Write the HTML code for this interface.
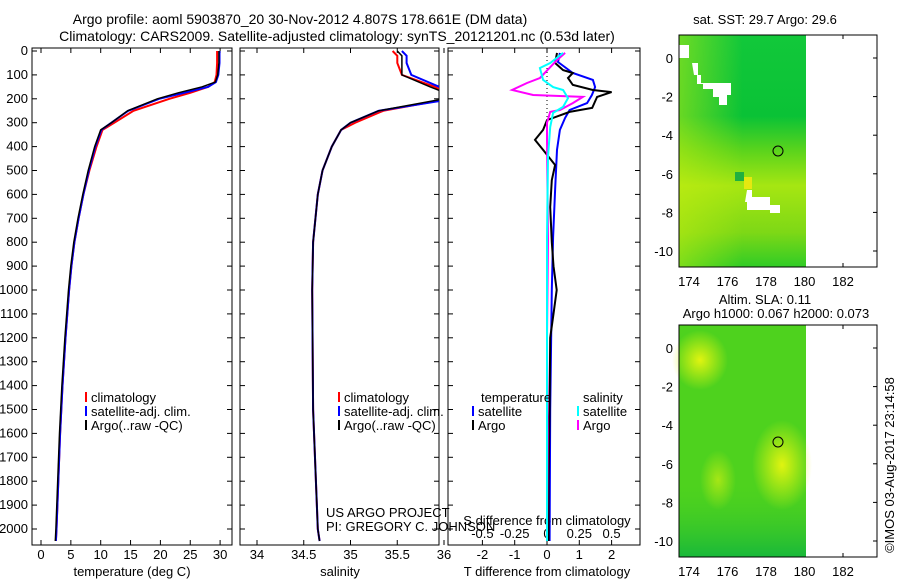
<!DOCTYPE html>
<html><head><meta charset="utf-8"><style>
body{margin:0;background:#fff;}
svg text{font-family:"Liberation Sans",sans-serif;font-size:13px;fill:#000;}
svg text.tt{font-size:14px;}
</style></head><body>
<svg id="c" width="900" height="580" xmlns="http://www.w3.org/2000/svg">
<defs>
<linearGradient id="g1" x1="0" y1="0" x2="0" y2="1">
<stop offset="0" stop-color="#12c83a"/><stop offset="0.35" stop-color="#0ac236"/><stop offset="0.5" stop-color="#5cd41c"/><stop offset="0.65" stop-color="#a6e612"/><stop offset="0.85" stop-color="#7ed816"/><stop offset="1" stop-color="#30cc26"/></linearGradient>
<linearGradient id="g1b" x1="0" y1="0" x2="1" y2="0">
<stop offset="0" stop-color="#c8ee10" stop-opacity="0.5"/><stop offset="0.5" stop-color="#c8ee10" stop-opacity="0"/></linearGradient>
<linearGradient id="g2" x1="0" y1="0" x2="0" y2="1">
<stop offset="0" stop-color="#4ed21e" stop-opacity="0"/><stop offset="1" stop-color="#18b83a"/></linearGradient>
<radialGradient id="b1" cx="0.5" cy="0.5" r="0.5"><stop offset="0" stop-color="#e0f410"/><stop offset="1" stop-color="#e0f410" stop-opacity="0"/></radialGradient>
</defs>
<text class="tt" x="300" y="24" text-anchor="middle">Argo profile: aoml 5903870_20 30-Nov-2012 4.807S 178.661E (DM data)</text>
<text class="tt" x="337" y="41" text-anchor="middle">Climatology: CARS2009. Satellite-adjusted climatology: synTS_20121201.nc (0.53d later)</text>
<g id="plots"></g>
<g>
<text x="765" y="24" text-anchor="middle">sat. SST: 29.7 Argo: 29.6</text>
<rect x="679" y="35" width="127" height="232" fill="url(#g1)"/>
<rect x="679" y="35" width="127" height="232" fill="url(#g1b)"/>
<path d="M679,45h10v13h-10z M692,63h6v12h3v8h30v12h-4v10h-8v-8h-6v-8h-10v-5h-6v-9h-3z M747,190h5v7h18v8h10v8h-10v-3h-23v-8h-2z" fill="#fff"/>
<rect x="744" y="177" width="8" height="12" fill="#e6e810"/>
<rect x="735" y="172" width="9" height="9" fill="#20b040"/>
<circle cx="778" cy="151" r="5" fill="none" stroke="#000"/>
<rect x="679" y="35" width="198" height="232" fill="none" stroke="#000"/>
</g>
<g>
<text x="765" y="304" text-anchor="middle">Altim. SLA: 0.11</text>
<text x="776" y="318" text-anchor="middle">Argo h1000: 0.067 h2000: 0.073</text>
<rect x="679" y="325" width="127" height="232" fill="#4ed21e"/>
<rect x="679" y="480" width="127" height="77" fill="url(#g2)"/>
<ellipse cx="700" cy="360" rx="28" ry="30" fill="url(#b1)"/>
<ellipse cx="782" cy="465" rx="30" ry="45" fill="url(#b1)"/>
<ellipse cx="718" cy="480" rx="18" ry="30" fill="url(#b1)" opacity="0.6"/>
<circle cx="778" cy="442" r="5" fill="none" stroke="#000"/>
<rect x="679" y="325" width="198" height="232" fill="none" stroke="#000"/>
</g>
<text transform="translate(894,465) rotate(-90)" text-anchor="middle">©IMOS 03-Aug-2017 23:14:58</text>
<text x="326" y="517">US ARGO PROJECT</text>
<text x="326" y="531">PI: GREGORY C. JOHNSON</text>
</svg>
<script>
const depthTicks=[0,100,200,300,400,500,600,700,800,900,1000,1100,1200,1300,1400,1500,1600,1700,1800,1900,2000];
const tempTicks=[0,5,10,15,20,25,30];
const salTicks=[34,34.5,35,35.5,36];
const tdTicks=[-2,-1,0,1,2];
const sdTickLabels=["-0.5","-0.25","0","0.25","0.5"];
const latTicks=[0,-2,-4,-6,-8,-10];
const lonTicks=[174,176,178,180,182];
const tDepth=[0,50,100,130,150,175,200,250,300,330,400,500,600,700,800,900,1000,1200,1400,1600,1800,2000,2050];
const tArgo=[29.8,29.8,29.6,29.2,27,23,19.5,14.5,11.8,10,9,7.9,7,6.2,5.5,5,4.6,4,3.5,3.1,2.8,2.5,2.4];
const tSat=[29.9,29.9,29.7,29.3,28,24,19.8,14.6,11.8,10.1,9.1,8,7.1,6.3,5.6,5.1,4.7,4.1,3.6,3.2,2.9,2.6,2.5];
const tClim=[29.5,29.5,29.4,29.1,28,25,21.5,15.5,12.3,10.3,9.3,8.1,7.1,6.3,5.6,5.1,4.7,4.1,3.6,3.2,2.9,2.6,2.5];
const sDepth=[0,20,50,100,150,180,200,250,300,330,400,500,600,800,1000,1500,2000,2050];
const sArgo=[35.5,35.55,35.55,35.55,35.85,36.05,36.0,35.3,35.0,34.9,34.8,34.7,34.65,34.6,34.59,34.6,34.65,34.67];
const sSat=[35.55,35.6,35.6,35.65,35.95,36.1,36.1,35.3,35.0,34.9,34.8,34.7,34.65,34.6,34.59,34.6,34.65,34.67];
const sClim=[35.45,35.5,35.5,35.55,35.9,36.05,36.05,35.35,35.05,34.9,34.8,34.7,34.65,34.6,34.59,34.6,34.65,34.67];
const dDepthA=[8,50,80,92,113,142,163,172,192,238,255,289,330,372,414,477,540,653,800,900,1000,1100,1200,1500,1800,2050];
const dTArgo=[0.31,0.25,0.5,0.8,0.65,0.8,1.42,2.0,1.55,1.4,0.7,0,-0.12,-0.37,-0.12,0.25,0.15,0.1,0.15,0.2,0.3,0.2,0.1,0.08,0.05,0.05];
const dDepthS=[8,46,92,121,151,184,218,247,280,330,414,582,778,1000,1500,2050];
const dTSat=[0.4,0.34,0.8,1.42,1.49,1.39,1.24,0.7,0.56,0.4,0.31,0.25,0.19,0.15,0.1,0.08];
const dDepthM=[8,38,113,134,163,184,192,218,247,255,301,372,791,1200,1600,2050];
const dSArgo=[0.56,0.31,-0.22,-0.62,-1.08,-0.43,1.11,0.8,0.4,0.1,0,0,0.03,0,0.02,0];
const dDepthC=[8,50,71,121,151,163,197,234,259,318,444,778,1200,1600,2050];
const dSSat=[0.5,0.1,-0.22,-0.12,0.19,0.5,0.65,0.5,0.19,0.1,0.03,0,0,0,0];

const NS="http://www.w3.org/2000/svg";
const root=document.getElementById('plots');
function el(t,a,p){const e=document.createElementNS(NS,t);for(const k in a)e.setAttribute(k,a[k]);(p||root).appendChild(e);return e;}
const Y0=51,YS=0.239;
const yD=d=>Y0+d*YS;
function panel(x0,x1,xf,ticks,labels,name){
  const g=el('g',{});
  
  
  el('rect',{x:x0,y:48,width:x1-x0,height:497,fill:'none',stroke:'#000'},g);
  depthTicks.forEach(d=>{el('line',{x1:x0,x2:x0+5,y1:yD(d),y2:yD(d),stroke:'#000'},g);el('line',{x1:x1,x2:x1-5,y1:yD(d),y2:yD(d),stroke:'#000'},g);});
  ticks.forEach((v,i)=>{const x=xf(v);el('line',{x1:x,x2:x,y1:48,y2:53,stroke:'#000'},g);el('line',{x1:x,x2:x,y1:545,y2:540,stroke:'#000'},g);
    if(labels){const t=el('text',{x:x,y:559,'text-anchor':'middle'},g);t.textContent=labels[i];}});
  return g;
}
function line(g,xs,ds,xf,col,name,w){
  const p=el('path',{d:xs.map((v,i)=>(i?'L':'M')+xf(v).toFixed(1)+','+yD(ds[i]).toFixed(1)).join(''),fill:'none',stroke:col,'stroke-width':w||2},g);
  
  
}
function legendEntry(g,x,y,col,label,name){
  const e=el('g',{},g);
  
  
  el('line',{x1:x,x2:x,y1:y-10,y2:y,stroke:col,'stroke-width':2},e);
  const t=el('text',{x:x+5,y:y},e);t.textContent=label;
}
depthTicks.forEach(d=>{const t=el('text',{x:28,y:yD(d)+4,'text-anchor':'end'});
  
  
  t.textContent=d;});
const xT=v=>41+v*5.97;
const p1=panel(32,232,xT,tempTicks,tempTicks,'temperature-panel');
{const t=el('text',{x:132,y:576,'text-anchor':'middle'},p1);t.textContent='temperature (deg C)';}
line(p1,tClim,tDepth,xT,'#f00','climatology-temp-line');
line(p1,tSat,tDepth,xT,'#00f','satellite-temp-line');
line(p1,tArgo,tDepth,xT,'#000','argo-temp-line',1.5);
legendEntry(p1,86,402,'#f00','climatology','legend-climatology');
legendEntry(p1,86,416,'#00f','satellite-adj. clim.','legend-satellite');
legendEntry(p1,86,430,'#000','Argo(..raw -QC)','legend-argo');
const xS=v=>257+(v-34)*93.5;
const p2=panel(240,439,xS,salTicks,["34","34.5","35","35.5","36"],'salinity-panel');
{const t=el('text',{x:340,y:576,'text-anchor':'middle'},p2);t.textContent='salinity';}
const cp=el('clipPath',{id:'cp2'});el('rect',{x:240,y:48,width:199,height:497},cp);
const p2c=el('g',{'clip-path':'url(#cp2)'},p2);
line(p2c,sClim,sDepth,xS,'#f00','climatology-sal-line');
line(p2c,sSat,sDepth,xS,'#00f','satellite-sal-line');
line(p2c,sArgo,sDepth,xS,'#000','argo-sal-line',1.5);
legendEntry(p2,339,402,'#f00','climatology','legend-climatology-2');
legendEntry(p2,339,416,'#00f','satellite-adj. clim.','legend-satellite-2');
legendEntry(p2,339,430,'#000','Argo(..raw -QC)','legend-argo-2');
const xd=v=>547+v*32.3;
const p3=panel(448,640,xd,tdTicks,["-2","-1","0","1","2"],'difference-panel');
tdTicks.forEach((v,i)=>{const t=el('text',{x:xd(v),y:538,'text-anchor':'middle'},p3);t.textContent=sdTickLabels[i];});
{const t=el('text',{x:547,y:525,'text-anchor':'middle'},p3);t.textContent='S difference from climatology';
 const t2=el('text',{x:547,y:576,'text-anchor':'middle'},p3);t2.textContent='T difference from climatology';}
el('line',{x1:xd(0),x2:xd(0),y1:48,y2:545,stroke:'#000','stroke-dasharray':'1,3'},p3);
line(p3,dTSat,dDepthS,xd,'#00f','satellite-t-diff');
line(p3,dTArgo,dDepthA,xd,'#000','argo-t-diff');
line(p3,dSArgo,dDepthM,xd,'#f0f','argo-s-diff');
line(p3,dSSat,dDepthC,xd,'#0ff','satellite-s-diff');
{const t=el('text',{x:481,y:402},p3);t.textContent='temperature';const u=el('text',{x:583,y:402},p3);u.textContent='salinity';}
legendEntry(p3,473,416,'#00f','satellite','legend-t-satellite');
legendEntry(p3,473,430,'#000','Argo','legend-t-argo');
legendEntry(p3,578,416,'#0ff','satellite','legend-s-satellite');
legendEntry(p3,578,430,'#f0f','Argo','legend-s-argo');
const lonX=v=>689+(v-174)*19.25;
function mapAxes(top,lat0,name){
  const g=el('g',{});
  
  
  latTicks.forEach(v=>{const y=lat0+(-v)*19.3;el('line',{x1:679,x2:683,y1:y,y2:y,stroke:'#000'},g);el('line',{x1:877,x2:873,y1:y,y2:y,stroke:'#000'},g);
    const t=el('text',{x:673,y:y+5,'text-anchor':'end'},g);t.textContent=v;});
  lonTicks.forEach(v=>{const x=lonX(v);el('line',{x1:x,x2:x,y1:top,y2:top+4,stroke:'#000'},g);el('line',{x1:x,x2:x,y1:top+232,y2:top+228,stroke:'#000'},g);
    const t=el('text',{x:x,y:top+251,'text-anchor':'middle'},g);t.textContent=v;});
}
mapAxes(35,58,'sst-map-axes');
mapAxes(325,348,'sla-map-axes');
</script>
</body></html>
